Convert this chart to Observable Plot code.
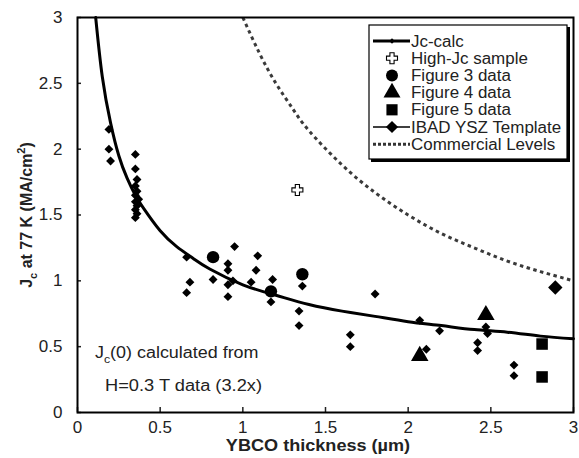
<!DOCTYPE html>
<html><head><meta charset="utf-8">
<script src="https://cdn.jsdelivr.net/npm/d3@7"></script>
<script src="https://cdn.jsdelivr.net/npm/@observablehq/plot@0.6"></script>
<style>body{margin:0;background:#fff}</style>
</head><body><div id="chart"></div>
<script>
const xTicks = [0, 0.5, 1, 1.5, 2, 2.5, 3];
const yTicks = [0, 0.5, 1, 1.5, 2, 2.5, 3];

// Jc-calc curve
const calcX = [0.11, 0.15, 0.2, 0.25, 0.3, 0.35, 0.4, 0.5, 0.6, 0.7, 0.8, 1.0, 1.2, 1.4, 1.6, 1.8, 2.0, 2.2, 2.4, 2.6, 2.8, 3.0];
const calcY = [3.0, 2.55, 2.2, 1.95, 1.78, 1.65, 1.55, 1.38, 1.26, 1.17, 1.09, 0.97, 0.89, 0.82, 0.77, 0.73, 0.69, 0.66, 0.63, 0.61, 0.58, 0.56];

// Commercial levels (dotted)
const commX = [1.0, 1.1, 1.2, 1.3, 1.4, 1.6, 1.8, 2.0, 2.2, 2.4, 2.6, 2.8, 3.0];
const commY = [3.0, 2.73, 2.5, 2.31, 2.14, 1.88, 1.67, 1.5, 1.36, 1.25, 1.15, 1.07, 1.0];

// High-Jc sample
const highX = [1.33];
const highY = [1.69];

// Figure 3 data (circles)
const fig3X = [0.82, 1.36, 1.17];
const fig3Y = [1.18, 1.05, 0.92];

// Figure 4 data (triangles)
const fig4X = [2.07, 2.47];
const fig4Y = [0.43, 0.74];

// Figure 5 data (squares)
const fig5X = [2.81, 2.81];
const fig5Y = [0.52, 0.27];

// IBAD YSZ Template (small diamonds)
const ibadX = [0.19, 0.19, 0.20, 0.35, 0.35, 0.36, 0.35, 0.36, 0.35, 0.37, 0.35, 0.36, 0.35, 0.36, 0.35,
  0.66, 0.68, 0.66, 0.95, 0.91, 0.91, 0.82, 0.91, 0.91, 0.94, 1.09, 1.08, 1.05, 1.18, 1.17,
  1.36, 1.34, 1.34, 1.80, 1.65, 1.65, 2.07, 2.19, 2.11, 2.47, 2.48, 2.42, 2.42, 2.64, 2.64];
const ibadY = [2.15, 2.0, 1.91, 1.96, 1.85, 1.77, 1.72, 1.68, 1.65, 1.62, 1.60, 1.57, 1.54, 1.51, 1.48,
  1.18, 0.99, 0.91, 1.26, 1.13, 1.08, 1.01, 0.97, 0.88, 1.0, 1.19, 1.08, 0.99, 1.01, 0.84,
  0.96, 0.77, 0.66, 0.90, 0.59, 0.50, 0.70, 0.62, 0.48, 0.65, 0.60, 0.53, 0.47, 0.36, 0.28];
// IBAD large diamond
const ibadBigX = [2.89];
const ibadBigY = [0.95];

const legendLabels = ["Jc-calc", "High-Jc sample", "Figure 3 data", "Figure 4 data", "Figure 5 data", "IBAD YSZ Template", "Commercial Levels"];

const zip = (xs, ys) => xs.map((x, i) => ({x, y: ys[i]}));
const calc = zip(calcX, calcY), comm = zip(commX, commY), high = zip(highX, highY);
const fig3 = zip(fig3X, fig3Y), fig4 = zip(fig4X, fig4Y), fig5 = zip(fig5X, fig5Y);
const ibad = zip(ibadX, ibadY), ibadBig = zip(ibadBigX, ibadBigY);

const openCross = {
  draw(ctx, size) {
    const r = Math.sqrt(size / Math.PI), w = r * 0.38;
    ctx.moveTo(-w, -r); ctx.lineTo(w, -r); ctx.lineTo(w, -w); ctx.lineTo(r, -w);
    ctx.lineTo(r, w); ctx.lineTo(w, w); ctx.lineTo(w, r); ctx.lineTo(-w, r);
    ctx.lineTo(-w, w); ctx.lineTo(-r, w); ctx.lineTo(-r, -w); ctx.lineTo(-w, -w); ctx.closePath();
  }
};

const font = "'Liberation Sans', Arial, sans-serif";
const plot = Plot.plot({
  width: 579, height: 458,
  marginLeft: 77, marginRight: 6, marginTop: 17, marginBottom: 46,
  x: {domain: [0, 3]},
  y: {domain: [0, 3]},
  style: {fontFamily: font, fontSize: "17px", color: "#222", background: "white"},
  marks: [
    Plot.axisX(xTicks, {tickSize: 0, tickPadding: 8, fontSize: 17, label: null, tickFormat: d => String(d)}),
    Plot.axisX(xTicks, {tickSize: 5, dy: -5, tickFormat: () => "", label: null, strokeWidth: 1.5}),
    Plot.axisY(yTicks, {tickSize: 0, tickPadding: 15, fontSize: 17, label: null, tickFormat: d => String(d)}),
    Plot.axisY(yTicks, {tickSize: 4, dx: 4, tickFormat: () => "", label: null, strokeWidth: 1.5}),
    Plot.line(comm, {x: "x", y: "y", curve: "natural", stroke: "#3a3a3a", strokeWidth: 3, strokeDasharray: "3.5,3.5", strokeLinecap: "butt"}),
    Plot.line(calc, {x: "x", y: "y", curve: "natural", stroke: "black", strokeWidth: 3}),
    Plot.dot(ibad, {x: "x", y: "y", symbol: "diamond2", r: 4, fill: "black"}),
    Plot.dot(ibadBig, {x: "x", y: "y", symbol: "diamond2", r: 6.5, fill: "black"}),
    Plot.dot(fig3, {x: "x", y: "y", symbol: "circle", r: 6.2, fill: "black"}),
    Plot.dot(fig4, {x: "x", y: "y", symbol: "triangle", r: 6.5, fill: "black"}),
    Plot.dot(fig5, {x: "x", y: "y", symbol: "square", r: 6.5, fill: "black"}),
    Plot.dot(high, {x: "x", y: "y", symbol: openCross, r: 5.5, fill: "white", stroke: "black", strokeWidth: 1.1}),
    Plot.frame({stroke: "black", strokeWidth: 2})
  ]
});
document.getElementById("chart").appendChild(plot);

const svg = d3.select(plot);
// stretch text horizontally to match the reference's wide lettering
const stretch = (sel, k) => {
  const n = sel.node();
  const w = n.getComputedTextLength();
  sel.attr("textLength", w * k).attr("lengthAdjust", "spacingAndGlyphs");
  return sel;
};

// axis titles
stretch(svg.append("text").attr("x", 318).attr("y", 451).attr("text-anchor", "middle")
  .attr("font-family", font).attr("font-weight", "bold").attr("font-size", 16).attr("fill", "#222")
  .text("YBCO thickness (\u00b5m)"), 1.13);
const yl = svg.append("text").attr("transform", "translate(32,215) rotate(-90)").attr("text-anchor", "middle")
  .attr("font-family", font).attr("font-weight", "bold").attr("font-size", 16).attr("fill", "#222");
yl.append("tspan").text("J");
yl.append("tspan").attr("font-size", 11).attr("dy", 5).text("c");
yl.append("tspan").attr("dy", -5).text(" at 77 K (MA/cm");
yl.append("tspan").attr("font-size", 11).attr("dy", -7).text("2");
yl.append("tspan").attr("dy", 7).text(")");

// annotation
const a1 = svg.append("text").attr("x", 95).attr("y", 358).attr("text-anchor", "start").attr("font-family", font).attr("font-size", 16).attr("fill", "#222");
a1.append("tspan").text("J");
a1.append("tspan").attr("font-size", 11).attr("dy", 5).text("c");
a1.append("tspan").attr("dy", -5).text("(0) calculated from");
stretch(a1, 1.12);
stretch(svg.append("text").attr("x", 105).attr("y", 391).attr("text-anchor", "start").attr("font-family", font).attr("font-size", 16).attr("fill", "#222")
  .text("H=0.3 T data (3.2x)"), 1.14);

// legend
const lg = svg.append("g").attr("text-anchor", "start");
lg.append("rect").attr("x", 371).attr("y", 27).attr("width", 199).attr("height", 135).attr("fill", "black");
lg.append("rect").attr("x", 369).attr("y", 25).attr("width", 198).attr("height", 134).attr("fill", "white").attr("stroke", "black").attr("stroke-width", 1.2);
const sx = 392, lx1 = 373, lx2 = 410, tx = 411;
legendLabels.forEach((lab, i) => {
  const cy = 41 + i * 17.2;
  stretch(lg.append("text").attr("x", tx).attr("y", cy + 5.5).attr("text-anchor", "start").attr("font-family", font).attr("font-size", 16).attr("fill", "#222").text(lab), 1.06);
  const sym = (type, r) => lg.append("path").attr("transform", `translate(${sx},${cy})`)
    .attr("d", d3.symbol(type, Math.PI * r * r)()).attr("fill", "black");
  if (i === 0) {
    lg.append("line").attr("x1", lx1).attr("x2", lx2).attr("y1", cy).attr("y2", cy).attr("stroke", "black").attr("stroke-width", 3);
    sym(d3.symbolDiamond2, 2.5);
  } else if (i === 1) {
    lg.append("path").attr("transform", `translate(${sx},${cy})`).attr("d", d3.symbol(openCross, Math.PI * 5.5 * 5.5)())
      .attr("fill", "white").attr("stroke", "black").attr("stroke-width", 1.1);
  } else if (i === 2) sym(d3.symbolCircle, 6);
  else if (i === 3) sym(d3.symbolTriangle, 6.3);
  else if (i === 4) sym(d3.symbolSquare, 6.3);
  else if (i === 5) {
    lg.append("line").attr("x1", lx1).attr("x2", lx2).attr("y1", cy).attr("y2", cy).attr("stroke", "black").attr("stroke-width", 1.5);
    sym(d3.symbolDiamond2, 5.5);
  } else {
    lg.append("line").attr("x1", lx1).attr("x2", lx2).attr("y1", cy).attr("y2", cy).attr("stroke", "#333").attr("stroke-width", 3).attr("stroke-dasharray", "3,2");
  }
});
</script>
</body></html>
